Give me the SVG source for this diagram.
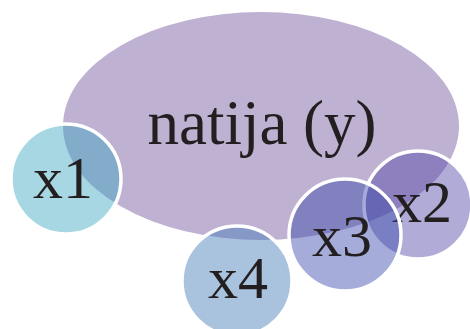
<svg xmlns="http://www.w3.org/2000/svg" width="470" height="329" viewBox="0 0 470 329">
<style>
.lbl{font-family:"Liberation Serif","Times New Roman",serif;fill:#231f20;text-anchor:middle}
.c{stroke:#fff;stroke-width:3.5}
.fillc{fill-opacity:0.45}
</style>
<rect width="470" height="329" fill="#fff"/>
<g id="y">
<ellipse cx="261" cy="126" rx="198" ry="114" fill="#bfb1d2"/>
<text class="lbl" x="262" y="144" font-size="63">natija (y)</text>
</g>
<g id="x1">
<circle class="c" cx="66" cy="179" r="55" fill="#39a6c1" fill-opacity="0.45"/>
<text class="lbl" x="63" y="198" font-size="60">x1</text>
</g>
<g id="x4">
<circle class="c" cx="237" cy="281" r="55" fill="#407ab8" fill-opacity="0.45"/>
<text class="lbl" x="238" y="298" font-size="60">x4</text>
</g>
<g id="x2">
<circle class="c" cx="418" cy="205" r="54" fill="#5244a6" fill-opacity="0.45"/>
<text class="lbl" x="422" y="222" font-size="60">x2</text>
</g>
<g id="x3">
<circle class="c" cx="345" cy="235" r="56" fill="#3747ab" fill-opacity="0.45"/>
<text class="lbl" x="342" y="256" font-size="60">x3</text>
</g>
<g id="connectors"/>
</svg>
